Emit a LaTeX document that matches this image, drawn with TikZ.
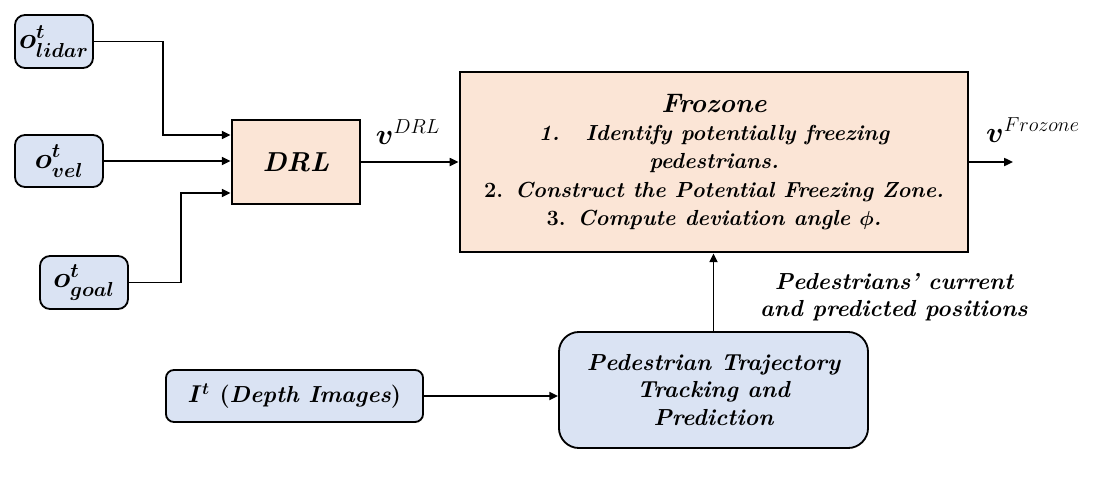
\documentclass[tikz,border=0pt]{standalone}
\usepackage{fontspec}
\usepackage{amsmath}
\usetikzlibrary{arrows.meta}
\definecolor{inblue}{RGB}{218,227,243}
\definecolor{blkorange}{RGB}{251,229,214}

\begin{document}
\begin{tikzpicture}[x=0.025cm, y=-0.025cm, >={Triangle[length=2.2mm,width=2mm]},
        font=\fontsize{16.5}{19.5}\selectfont\bfseries\itshape\boldmath,
        inp/.style = {draw, line width=1.3pt, rounded corners=2.5mm, fill=inblue, align=center, inner sep=0pt},
        blk/.style = {draw, line width=2pt, fill=blkorange, align=center, inner sep=0pt},
        big/.style = {font=\fontsize{19.5}{22}\selectfont\bfseries\itshape\boldmath},
        link/.style = {->, line width=1.2pt}]
        \useasboundingbox (0,0) rectangle (1097,480);

        \node[inp, big, minimum width=1.95cm, minimum height=1.325cm] (1) at (54,41.5) {$o^t_{lidar}$};
        \node[inp, big, minimum width=2.2cm, minimum height=1.3cm] (2) at (59,161) {$o^t_{vel}$};
        \node[inp, big, minimum width=2.2cm, minimum height=1.325cm] (3) at (84,282.5) {$o^t_{goal}$};
        \node[blk, big, minimum width=3.2cm, minimum height=2.1cm] (4) at (296,162) {DRL};
        \node[blk, font=\fontsize{15.5}{20}\selectfont\bfseries\itshape\boldmath, minimum width=12.7cm, minimum height=4.5cm] (5) at (714,162)
            {{\fontsize{19}{20}\selectfont Frozone}\\ 1.\hspace{1.2em}Identify potentially freezing\\ pedestrians.\\
             {\upshape 2.} Construct the Potential Freezing Zone.\\ {\upshape 3.} Compute deviation angle $\phi$.};
        \node[inp, rounded corners=5mm, minimum width=7.725cm, minimum height=2.9cm] (6) at (713.5,390)
            {Pedestrian Trajectory\\ Tracking and\\ Prediction};
        \node[inp, rounded corners=2mm, minimum width=6.425cm, minimum height=1.3cm] (7) at (294.5,396)
            {$I^t$ {\upshape(}Depth Images{\upshape)}};

        \node[font=\fontsize{20}{22}\selectfont] (8) at (408,132) {$\boldsymbol{v}^{DRL}$};
        \node[font=\fontsize{20}{22}\selectfont] (9) at (1033,130) {$\boldsymbol{v}^{Frozone}$};
        \node[align=center] (10) at (894,297) {Pedestrians' current\\ and predicted positions};
        \coordinate (out) at (1013,162);

        \draw[link] (1.east) -- ++(69,0) |- ([yshift=0.675cm]4.west);
        \draw[link] (2.east) -- (2.east -| 4.west);
        \draw[link] (3.east) -- ++(52,0) |- ([yshift=-0.775cm]4.west);
        \draw[link] (4) -- (5);
        \draw[link] (5) -- (out);
        \draw[link] (6.north) -- (6.north |- 5.south);
        \draw[link] (7.east) -- (7.east -| 6.west);
\end{tikzpicture}
\end{document}
